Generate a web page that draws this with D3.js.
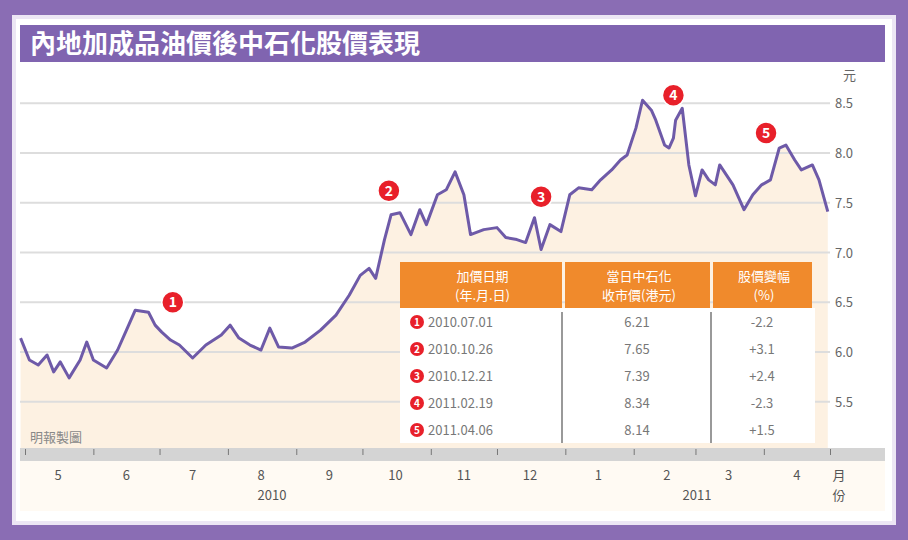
<!DOCTYPE html>
<html><head><meta charset="utf-8">
<script src="https://cdn.jsdelivr.net/npm/d3@7"></script>
<style>body{margin:0;background:#8a6db4}svg{display:block}text{font-family:"Noto Sans CJK TC","Noto Sans",sans-serif}</style>
</head><body><div id="chart"></div>
<script>
var title = "內地加成品油價後中石化股價表現";
var dates = ["2010-04-29","2010-05-03","2010-05-07","2010-05-11","2010-05-14","2010-05-17","2010-05-21","2010-05-26","2010-05-29","2010-06-01",
  "2010-06-07","2010-06-12","2010-06-16","2010-06-20","2010-06-26","2010-06-29","2010-07-02","2010-07-06","2010-07-10","2010-07-16",
  "2010-07-22","2010-07-29","2010-08-02","2010-08-06","2010-08-11","2010-08-16","2010-08-20","2010-08-24","2010-08-30","2010-09-05",
  "2010-09-12","2010-09-19","2010-09-25","2010-09-30","2010-10-04","2010-10-07","2010-10-11","2010-10-14","2010-10-18","2010-10-23",
  "2010-10-27","2010-10-30","2010-11-04","2010-11-08","2010-11-12","2010-11-16","2010-11-19","2010-11-25","2010-12-01","2010-12-05",
  "2010-12-10","2010-12-14","2010-12-18","2010-12-21","2010-12-25","2010-12-30","2011-01-03","2011-01-07","2011-01-13","2011-01-17",
  "2011-01-22","2011-01-26","2011-01-29","2011-02-02","2011-02-05","2011-02-09","2011-02-11","2011-02-15","2011-02-17","2011-02-19",
  "2011-02-20","2011-02-23","2011-02-26","2011-03-01","2011-03-04","2011-03-07","2011-03-10","2011-03-12","2011-03-15","2011-03-18",
  "2011-03-23","2011-03-27","2011-03-31","2011-04-04","2011-04-08","2011-04-11","2011-04-15","2011-04-18","2011-04-23","2011-04-26","2011-04-30"];
var prices = [6.14,5.92,5.87,5.97,5.80,5.90,5.74,5.92,6.10,5.92,
  5.84,6.02,6.22,6.42,6.40,6.27,6.20,6.12,6.07,5.94,
  6.07,6.17,6.27,6.14,6.07,6.02,6.24,6.05,6.04,6.10,
  6.22,6.37,6.57,6.77,6.84,6.74,7.13,7.38,7.40,7.18,
  7.43,7.28,7.58,7.63,7.81,7.58,7.18,7.23,7.25,7.15,
  7.13,7.10,7.35,7.03,7.28,7.21,7.58,7.65,7.63,7.73,
  7.83,7.93,7.98,8.25,8.53,8.43,8.33,8.08,8.05,8.15,
  8.33,8.45,7.88,7.57,7.83,7.73,7.68,7.88,7.78,7.68,
  7.43,7.58,7.68,7.73,8.05,8.08,7.93,7.83,7.88,7.73,7.41];
var yTicks = [5.5,6.0,6.5,7.0,7.5,8.0,8.5];
var monthLabels = ["5","6","7","8","9","10","11","12","1","2","3","4"];
var markerNums = [1,2,3,4,5];
var markerDates = ["2010-07-07","2010-10-13","2010-12-21","2011-02-19","2011-04-02"];
var markerVals = [6.50,7.62,7.56,8.58,8.20];
var tableHead = [["加價日期","(年.月.日)"],["當日中石化","收市價(港元)"],["股價變幅","(%)"]];
var tableDates = ["2010.07.01","2010.10.26","2010.12.21","2011.02.19","2011.04.06"];
var tableClose = ["6.21","7.65","7.39","8.34","8.14"];
var tableChange = ["-2.2","+3.1","+2.4","-2.3","+1.5"];

var W = 908, H = 540;
var parse = d3.timeParse("%Y-%m-%d");
var data = dates.map(function(d, i) { return {date: parse(d), v: prices[i]}; });
var svg = d3.select("#chart").append("svg").attr("width", W).attr("height", H);

svg.append("rect").attr("width", W).attr("height", H).attr("fill", "#8a6db4");
svg.append("rect").attr("x", 12).attr("y", 15).attr("width", 884).attr("height", 510).attr("fill", "#ece6f4");
svg.append("rect").attr("x", 16).attr("y", 19).attr("width", 876).attr("height", 502).attr("fill", "#fff");
svg.append("rect").attr("x", 20).attr("y", 25).attr("width", 865).attr("height", 37).attr("fill", "#8064b0");
svg.append("text").attr("x", 30).attr("y", 53).attr("fill", "#fff").attr("font-size", 26).attr("font-weight", "bold")
  .text(title);

var x = d3.scaleTime().domain([parse("2010-05-01"), parse("2011-05-01")]).range([25, 830]);
var y = d3.scaleLinear().domain([6.0, 8.0]).range([352, 153]);
var bottom = 448;

// area fill
svg.append("path").datum(data).attr("fill", "#fdf1e2")
  .attr("d", d3.area().x(function(d) { return x(d.date); }).y0(bottom).y1(function(d) { return y(d.v); }));

// grid + y labels
svg.selectAll(".grid").data(yTicks).enter().append("line")
  .attr("x1", 20).attr("x2", 830).attr("y1", y).attr("y2", y)
  .attr("stroke", "#ddd").attr("stroke-width", 2);
svg.selectAll(".ylab").data(yTicks).enter().append("text")
  .attr("x", 835).attr("y", function(d) { return y(d) + 5; })
  .attr("font-size", 13).attr("fill", "#666").text(function(d) { return d.toFixed(1); });
svg.append("text").attr("x", 843).attr("y", 80).attr("font-size", 13).attr("fill", "#666").text("元");

// line
svg.append("path").datum(data).attr("fill", "none").attr("stroke", "#6e5aa8").attr("stroke-width", 3)
  .attr("stroke-linejoin", "round")
  .attr("d", d3.line().x(function(d) { return x(d.date); }).y(function(d) { return y(d.v); }));

// table
var tx = 400, colX = [400, 565, 713, 815], ty = 262;
var tbl = svg.append("g");
tbl.append("rect").attr("x", tx).attr("y", ty + 46).attr("width", 415).attr("height", 135).attr("fill", "#fff");
tableHead.forEach(function(h, i) {
  tbl.append("rect").attr("x", colX[i]).attr("y", ty).attr("width", colX[i + 1] - colX[i] - 3).attr("height", 46).attr("fill", "#f08a2c");
  h.forEach(function(s, j) {
    tbl.append("text").attr("x", (colX[i] + colX[i + 1]) / 2).attr("y", ty + 19 + j * 19)
      .attr("text-anchor", "middle").attr("font-size", 13).attr("fill", "#fff").text(s);
  });
});
[562, 711].forEach(function(cx) {
  tbl.append("line").attr("x1", cx).attr("x2", cx).attr("y1", ty + 50).attr("y2", ty + 181).attr("stroke", "#999").attr("stroke-width", 2);
});
tableDates.forEach(function(d, i) {
  var ry = ty + 60 + i * 27;
  tbl.append("circle").attr("cx", 417).attr("cy", ry).attr("r", 7).attr("fill", "#e8202a");
  tbl.append("text").attr("x", 417).attr("y", ry + 4).attr("text-anchor", "middle").attr("font-size", 10).attr("font-weight", "bold").attr("fill", "#fff").text(i + 1);
  tbl.append("text").attr("x", 428).attr("y", ry + 5).attr("font-size", 13).attr("fill", "#777").text(d);
  tbl.append("text").attr("x", 637).attr("y", ry + 5).attr("text-anchor", "middle").attr("font-size", 13).attr("fill", "#777").text(tableClose[i]);
  tbl.append("text").attr("x", 762).attr("y", ry + 5).attr("text-anchor", "middle").attr("font-size", 13).attr("fill", "#777").text(tableChange[i]);
});

// markers
var mk = svg.selectAll(".mk").data(markerNums).enter().append("g")
  .attr("transform", function(d, i) { return "translate(" + x(parse(markerDates[i])) + "," + y(markerVals[i]) + ")"; });
mk.append("circle").attr("r", 11).attr("fill", "#e8202a").attr("stroke", "#fff").attr("stroke-width", 1.5);
mk.append("text").attr("y", 5).attr("text-anchor", "middle").attr("font-size", 14).attr("font-weight", "bold").attr("fill", "#fff").text(function(d) { return d; });

svg.append("text").attr("x", 30).attr("y", 442).attr("font-size", 13).attr("fill", "#888").text("明報製圖");

// x axis
svg.append("rect").attr("x", 20).attr("y", 448).attr("width", 865).attr("height", 13).attr("fill", "#d4d4d4");
svg.append("rect").attr("x", 20).attr("y", 461).attr("width", 865).attr("height", 50).attr("fill", "#fffaf3");
var xAxis = d3.axisBottom(x).ticks(d3.timeMonth.every(1)).tickSize(6).tickFormat("");
var ax = svg.append("g").attr("transform", "translate(0,449)").call(xAxis);
ax.select(".domain").remove();
ax.selectAll("line").attr("stroke", "#777");
var months = d3.timeMonth.range(parse("2010-05-01"), parse("2011-05-01"));
svg.selectAll(".mlab").data(months).enter().append("text")
  .attr("x", function(d) { return x(d3.timeDay.offset(d, 15)); }).attr("y", 480)
  .attr("text-anchor", "middle").attr("font-size", 13).attr("fill", "#555")
  .text(function(d, i) { return monthLabels[i]; });
svg.append("text").attr("x", 839).attr("y", 480).attr("text-anchor", "middle").attr("font-size", 13).attr("fill", "#555").text("月");
svg.append("text").attr("x", 839).attr("y", 500).attr("text-anchor", "middle").attr("font-size", 13).attr("fill", "#555").text("份");
svg.append("text").attr("x", 272).attr("y", 500).attr("text-anchor", "middle").attr("font-size", 13).attr("fill", "#555").text("2010");
svg.append("text").attr("x", 697).attr("y", 500).attr("text-anchor", "middle").attr("font-size", 13).attr("fill", "#555").text("2011");
</script></body></html>
